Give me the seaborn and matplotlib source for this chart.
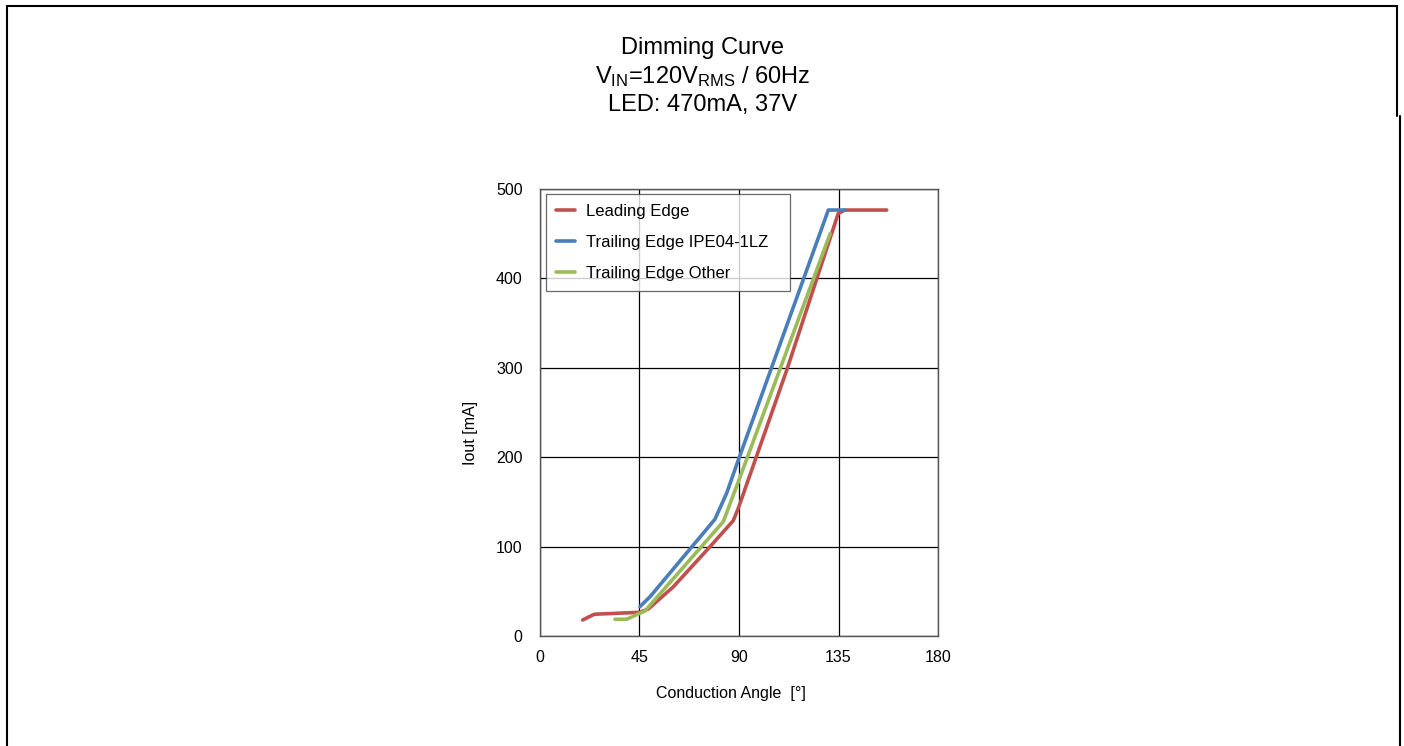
import matplotlib
matplotlib.use("Agg")
import matplotlib.pyplot as plt
from matplotlib.lines import Line2D
import seaborn as sns
import pandas as pd

# data
leading_x = [19.3, 24.6, 45.2, 49.0, 60.3, 76.9, 87.4, 89.7, 111.6, 134.9, 137.9, 156.8]
leading_y = [17.9, 24.3, 26.5, 30.2, 55.0, 99.9, 129.0, 143.0, 297.5, 472.8, 476.5, 476.5]

ipe_x = [45.2, 49.8, 79.1, 84.4, 89.7, 130.4, 137.9]
ipe_y = [32.8, 44.0, 130.5, 159.6, 196.9, 476.5, 476.5]

other_x = [33.9, 39.2, 45.2, 47.5, 82.9, 89.7, 131.2]
other_y = [18.7, 18.7, 25.4, 28.0, 127.9, 172.6, 450.0]

series = ["Leading Edge", "Trailing Edge IPE04-1LZ", "Trailing Edge Other"]
colors = ["#C0504D", "#4A7EBB", "#9BBB59"]

x_ticks = [0, 45, 90, 135, 180]
y_ticks = [0, 100, 200, 300, 400, 500]

df = pd.concat([
    pd.DataFrame({"angle": leading_x, "iout": leading_y, "curve": series[0]}),
    pd.DataFrame({"angle": ipe_x, "iout": ipe_y, "curve": series[1]}),
    pd.DataFrame({"angle": other_x, "iout": other_y, "curve": series[2]}),
])

sns.set_style("white")
plt.rcParams["font.family"] = ["Liberation Sans", "DejaVu Sans"]
plt.rcParams["mathtext.default"] = "regular"
plt.rcParams["text.color"] = "black"
plt.rcParams["axes.labelcolor"] = "black"
plt.rcParams["xtick.labelcolor"] = "black"
plt.rcParams["ytick.labelcolor"] = "black"

fig = plt.figure(figsize=(14.04, 7.46), dpi=100)
ax = fig.add_axes([0.3846, 0.1475, 0.2835, 0.5991])

sns.lineplot(data=df, x="angle", y="iout", hue="curve", hue_order=series,
             palette=colors, linewidth=2.6, sort=False, ax=ax)

ax.set_xlim(0, 180)
ax.set_ylim(0, 500)
ax.set_xticks(x_ticks)
ax.set_yticks(y_ticks)
ax.grid(True, color="black", linewidth=0.9)
ax.set_axisbelow(True)
for s in ax.spines.values():
    s.set_color("#555555")
    s.set_linewidth(1.0)
ax.tick_params(axis="both", direction="out", length=3, width=0.8,
               color="#555555", labelsize=11.5)
ax.tick_params(axis="x", pad=7)
ax.tick_params(axis="y", pad=9.5)

ax.set_xlabel("Conduction Angle  [°]", fontsize=11.5)
ax.set_ylabel("Iout [mA]", fontsize=11.5)
ax.yaxis.set_label_coords(-0.155, 0.454)
ax.xaxis.set_label_coords(0.48, -0.112)

leg = ax.legend(loc="upper left", bbox_to_anchor=(0.0151, 0.0, 0.613, 0.9888),
                mode="expand", borderaxespad=0, fontsize=12, frameon=True,
                fancybox=False, handlelength=1.15, handletextpad=0.66,
                labelspacing=0.95, borderpad=0.6)
leg.get_frame().set_edgecolor("#444444")
leg.get_frame().set_linewidth(0.9)
for h in leg.get_lines():
    h.set_linewidth(2.6)

fig.text(0.5007, 0.9357, "Dimming Curve", ha="center", va="center", fontsize=17)
fig.text(0.5007, 0.8975, "$V_{IN}$=120$V_{RMS}$ / 60Hz", ha="center", va="center", fontsize=17)
fig.text(0.5007, 0.8592, "LED: 470mA, 37V", ha="center", va="center", fontsize=17)

# page border
lw = 1.5
fig.add_artist(Line2D([0.00463, 0.00463], [0.0, 0.9926], transform=fig.transFigure, color="black", lw=lw))
fig.add_artist(Line2D([0.00463, 0.995], [0.9926, 0.9926], transform=fig.transFigure, color="black", lw=lw))
fig.add_artist(Line2D([0.995, 0.995], [0.8445, 0.9926], transform=fig.transFigure, color="black", lw=lw))
fig.add_artist(Line2D([0.9972, 0.9972], [0.0, 0.8445], transform=fig.transFigure, color="black", lw=lw))

fig.savefig("out.png", dpi=100)
